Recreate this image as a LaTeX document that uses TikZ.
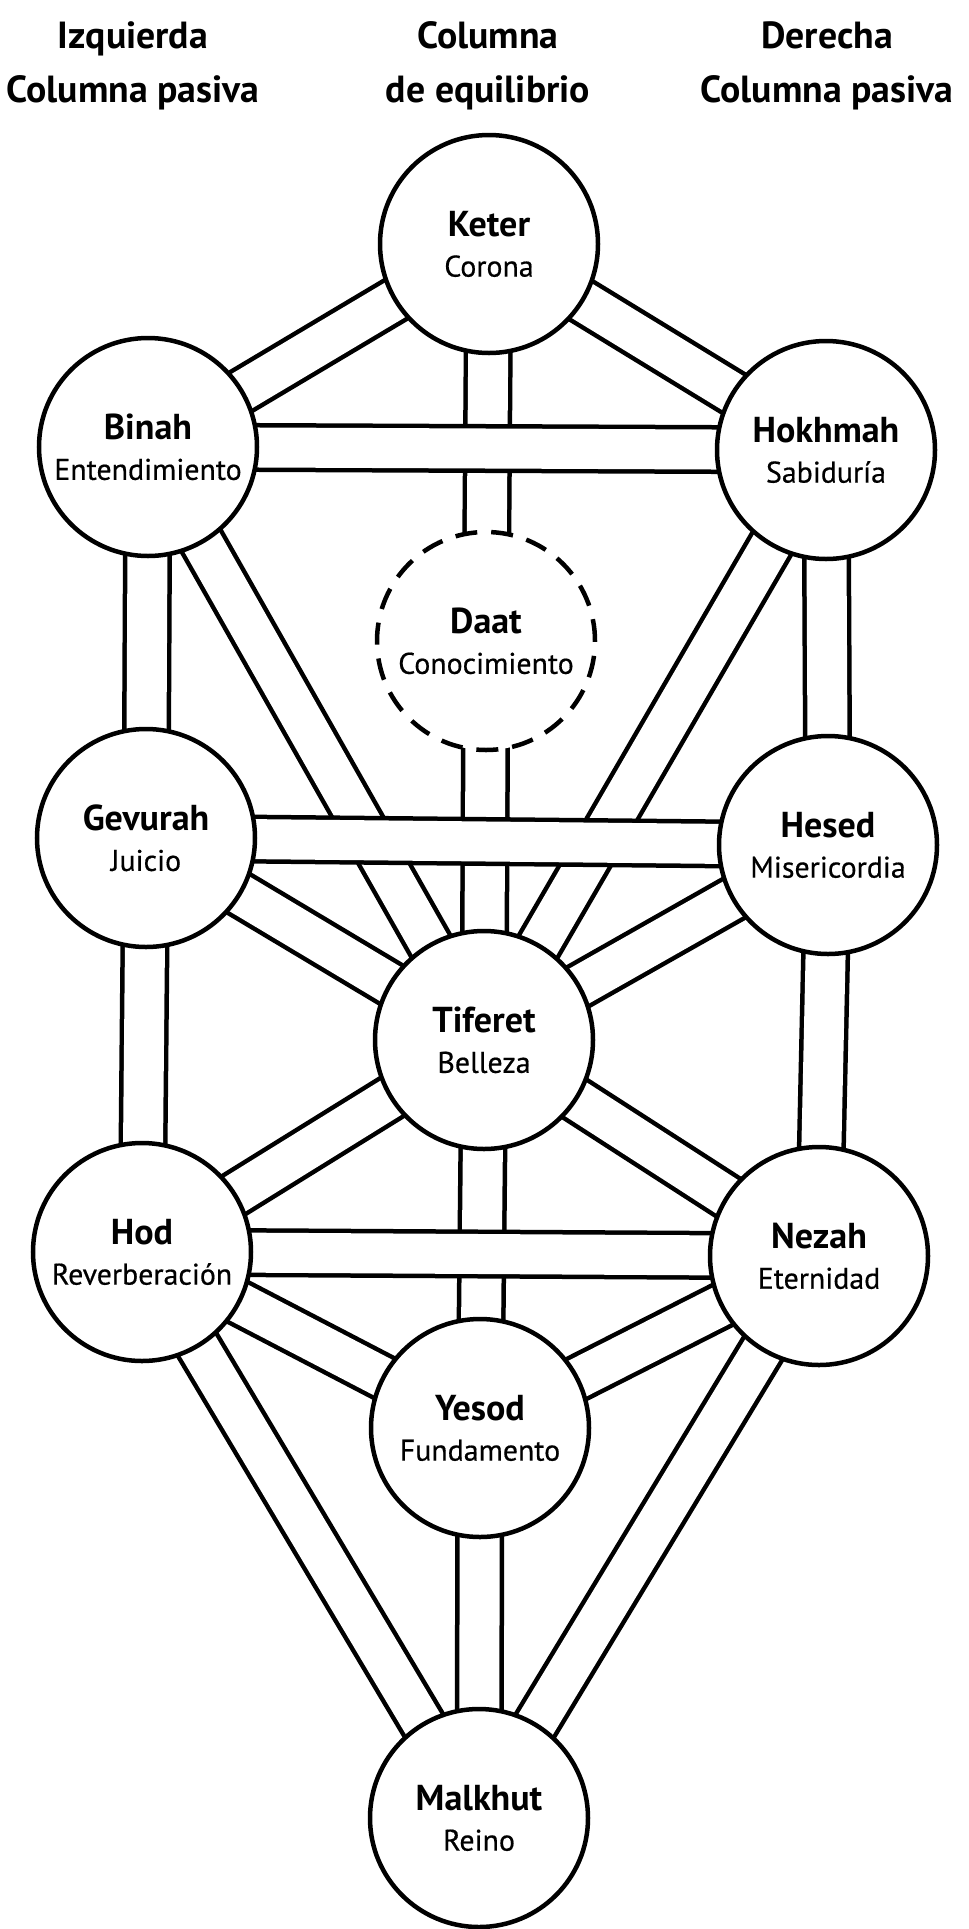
\documentclass[tikz,border=0pt]{standalone}
\usepackage{fontspec}
\setmainfont{PT Sans}
\newfontfamily\subfont{PT Sans}[FakeBold=0.5]
\usetikzlibrary{backgrounds}
\newcommand\nm[2]{{\bfseries\fontsize{20.5}{22}\selectfont #1}\\[3pt]{\subfont #2}}
\begin{document}
\begin{tikzpicture}[x=0.2mm,y=-0.2mm,
  sefira/.style={circle, draw=black, line width=0.9mm, fill=white, minimum size=43.6mm, inner sep=0pt, align=center, font=\fontsize{17}{20}\selectfont},
  hidden/.style={sefira, dash pattern=on 4.4mm off 2.8mm},
  chan/.style={draw=black, line width=0.9mm, double=white, double distance=8mm},
  head/.style={align=center, font=\bfseries\fontsize{21.5}{31}\selectfont}]
\useasboundingbox (0,0) rectangle (968,1929);

\node[head] (hl) at (133,66) {Izquierda\\Columna pasiva};
\node[head] (hc) at (488,66) {Columna\\de equilibrio};
\node[head] (hr) at (827,66) {Derecha\\Columna pasiva};

\node[sefira] (keter)   at (489,244)  {\nm{Keter}{Corona}};
\node[sefira] (binah)   at (148,447)  {\nm{Binah}{Entendimiento}};
\node[sefira] (hokhmah) at (826,450)  {\nm{Hokhmah}{Sabidur\'ia}};
\node[hidden] (daat)    at (486,641)  {\nm{Daat}{Conocimiento}};
\node[sefira] (gevurah) at (146,838)  {\nm{Gevurah}{Juicio}};
\node[sefira] (hesed)   at (828,845)  {\nm{Hesed}{Misericordia}};
\node[sefira] (tiferet) at (484,1040) {\nm{Tiferet}{Belleza}};
\node[sefira] (hod)     at (142,1252) {\nm{Hod}{Reverberaci\'on}};
\node[sefira] (nezah)   at (819,1256) {\nm{Nezah}{Eternidad}};
\node[sefira] (yesod)   at (480,1428) {\nm{Yesod}{Fundamento}};
\node[sefira] (malkhut) at (479,1818) {\nm{Malkhut}{Reino}};

\begin{pgfonlayer}{background}
\draw[chan] (keter.center) -- (binah.center);
\draw[chan] (keter.center) -- (hokhmah.center);
\draw[chan] (keter.center) -- (daat.center);
\draw[chan] (daat.center) -- (tiferet.center);
\draw[chan] (binah.center) -- (gevurah.center);
\draw[chan] (binah.center) -- (tiferet.center);
\draw[chan] (hokhmah.center) -- (hesed.center);
\draw[chan] (hokhmah.center) -- (tiferet.center);
\draw[chan] (gevurah.center) -- (tiferet.center);
\draw[chan] (hesed.center) -- (tiferet.center);
\draw[chan] (gevurah.center) -- (hod.center);
\draw[chan] (hesed.center) -- (nezah.center);
\draw[chan] (tiferet.center) -- (hod.center);
\draw[chan] (tiferet.center) -- (nezah.center);
\draw[chan] (tiferet.center) -- (yesod.center);
\draw[chan] (hod.center) -- (yesod.center);
\draw[chan] (nezah.center) -- (yesod.center);
\draw[chan] (hod.center) -- (malkhut.center);
\draw[chan] (nezah.center) -- (malkhut.center);
\draw[chan] (yesod.center) -- (malkhut.center);
\draw[chan] (binah.center) -- (hokhmah.center);
\draw[chan] (gevurah.center) -- (hesed.center);
\draw[chan] (hod.center) -- (nezah.center);
\end{pgfonlayer}
\end{tikzpicture}
\end{document}
